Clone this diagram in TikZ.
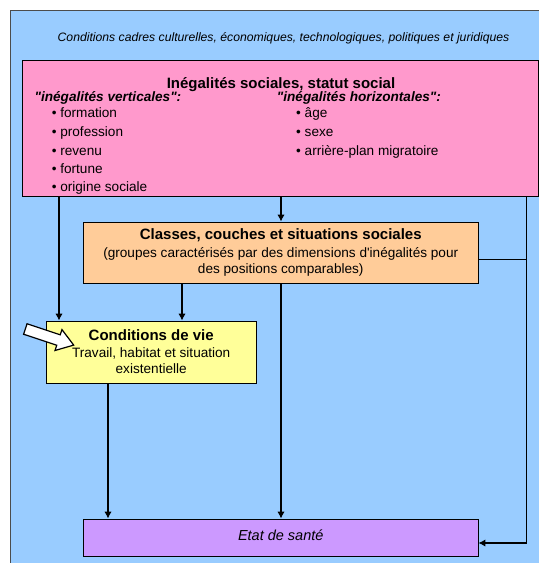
\documentclass[tikz,border=0pt]{standalone}
\usepackage{fontspec}
\setmainfont{Liberation Sans}[Ligatures=TeXOff]
\usetikzlibrary{arrows.meta}
\definecolor{bleucadre}{HTML}{99CCFF}
\definecolor{roseineg}{HTML}{FF99CC}
\definecolor{orangeclasse}{HTML}{FFCC99}
\definecolor{jaunevie}{HTML}{FFFF99}
\definecolor{violetsante}{HTML}{CC99FF}
\begin{document}
\begin{tikzpicture}[x=1pt,y=-1pt,
    box/.style={draw, line width=0.8pt, inner sep=0pt, align=center},
    fleche/.style={line width=1.8pt, -{Latex[length=7pt,width=7.5pt]}},
    trait/.style={line width=0.8pt},
    txt/.style={anchor=base west, inner sep=0pt, font=\fontsize{13.6}{16}\selectfont}]
  \useasboundingbox (0,0) rectangle (539,563);
  \fill[bleucadre] (10,10) rectangle (539,563);
  \draw[black!70, line width=0.8pt] (10,563) -- (10,10) -- (539,10);
  \node[anchor=base, inner sep=0pt, font=\itshape\fontsize{12.2}{14}\selectfont] (cadre) at (283.5,41) {Conditions cadres culturelles, économiques, technologiques, politiques et juridiques};
  % inegalites
  \node[box, fill=roseineg, minimum width=516pt, minimum height=136pt] (ineg) at (280,128) {};
  \node[anchor=base, inner sep=0pt, font=\bfseries\fontsize{15}{17}\selectfont] (inegtitre) at (281,88) {Inégalités sociales, statut social};
  \node[txt, font=\bfseries\itshape\fontsize{13.6}{16}\selectfont] (vert) at (34.4,101.5) {"inégalités verticales":};
  \node[txt] (vert1) at (51.6,117.8) {• formation};
  \node[txt] (vert2) at (51.6,136.3) {• profession};
  \node[txt] (vert3) at (51.6,155.1) {• revenu};
  \node[txt] (vert4) at (51.6,173.7) {• fortune};
  \node[txt] (vert5) at (51.6,191.8) {• origine sociale};
  \node[txt, font=\bfseries\itshape\fontsize{13.6}{16}\selectfont] (horiz) at (276.7,101.5) {"inégalités horizontales":};
  \node[txt] (horiz1) at (296,117.8) {• âge};
  \node[txt] (horiz2) at (296,136.3) {• sexe};
  \node[txt] (horiz3) at (296,155.1) {• arrière-plan migratoire};
  % boites
  \node[box, fill=orangeclasse, minimum width=394.5pt, minimum height=61pt, font=\fontsize{13.6}{16}\selectfont] (classes) at (280.75,252.5) {{\bfseries\fontsize{15}{17}\selectfont Classes, couches et situations sociales}\\[2pt](groupes caractérisés par des dimensions d'inégalités pour\\des positions comparables)};
  \node[box, fill=jaunevie, minimum width=209.6pt, minimum height=62pt, font=\fontsize{13.6}{16}\selectfont] (vie) at (151.2,352) {{\bfseries\fontsize{15}{17}\selectfont Conditions de vie}\\[1pt]Travail, habitat et situation\\existentielle};
  \node[box, fill=violetsante, minimum width=394.5pt, minimum height=37pt, text depth=4pt, font=\itshape\fontsize{14.5}{17}\selectfont] (sante) at (280.75,537.5) {Etat de santé};
  % fleches
  \coordinate (col1) at (59,0);
  \coordinate (col2) at (281,0);
  \coordinate (col3) at (182,0);
  \coordinate (col4) at (108,0);
  \draw[fleche] (ineg.south -| col1) -- (vie.north -| col1);
  \draw[fleche] (ineg.south -| col2) -- (classes.north -| col2);
  \draw[fleche] (classes.south -| col3) -- (vie.north -| col3);
  \draw[fleche] (classes.south -| col2) -- (sante.north -| col2);
  \draw[fleche] (vie.south -| col4) -- (sante.north -| col4);
  \coordinate (coin) at (526.5,543);
  \coordinate (lien) at (526.5,259);
  \draw[trait] (ineg.south -| coin) -- (coin);
  \draw[fleche] (coin) -- (sante.east |- coin);
  \draw[trait] (classes.east |- lien) -- (lien);
  % fleche blanche
  \draw[fill=white, line width=1.2pt, shift={(25.3,329)}, rotate=-18.4] (0,5.5) -- (35,5.5) -- (35,11) -- (51,0) -- (35,-11) -- (35,-5.5) -- (0,-5.5) -- cycle;
\end{tikzpicture}
\end{document}
